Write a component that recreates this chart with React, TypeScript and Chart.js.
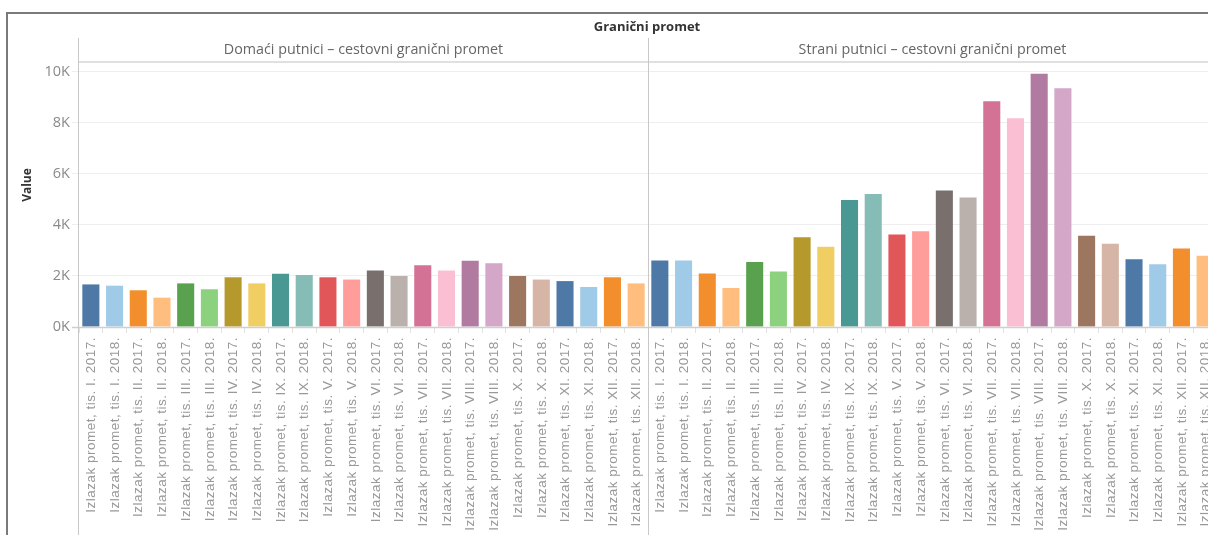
import React, { useEffect, useRef } from "react";
import { Chart, registerables } from "chart.js";

Chart.register(...registerables);

const chartTitle = "Granični promet";
const yAxisTitle = "Value";
const panelTitles = [
  "Domaći putnici – cestovni granični promet",
  "Strani putnici – cestovni granični promet",
];

const categories = [
  "Izlazak promet, tis. I. 2017.",
  "Izlazak promet, tis. I. 2018.",
  "Izlazak promet, tis. II. 2017.",
  "Izlazak promet, tis. II. 2018.",
  "Izlazak promet, tis. III. 2017.",
  "Izlazak promet, tis. III. 2018.",
  "Izlazak promet, tis. IV. 2017.",
  "Izlazak promet, tis. IV. 2018.",
  "Izlazak promet, tis. IX. 2017.",
  "Izlazak promet, tis. IX. 2018.",
  "Izlazak promet, tis. V. 2017.",
  "Izlazak promet, tis. V. 2018.",
  "Izlazak promet, tis. VI. 2017.",
  "Izlazak promet, tis. VI. 2018.",
  "Izlazak promet, tis. VII. 2017.",
  "Izlazak promet, tis. VII. 2018.",
  "Izlazak promet, tis. VIII. 2017.",
  "Izlazak promet, tis. VIII. 2018.",
  "Izlazak promet, tis. X. 2017.",
  "Izlazak promet, tis. X. 2018.",
  "Izlazak promet, tis. XI. 2017.",
  "Izlazak promet, tis. XI. 2018.",
  "Izlazak promet, tis. XII. 2017.",
  "Izlazak promet, tis. XII. 2018.",
];

const domaciValues = [
  1670, 1620, 1440, 1150, 1710, 1480, 1950, 1710, 2090, 2040, 1950, 1860,
  2220, 2000, 2420, 2220, 2600, 2500, 2000, 1860, 1800, 1570, 1950, 1710,
];

const straniValues = [
  2610, 2610, 2100, 1530, 2550, 2180, 3520, 3150, 4980, 5220, 3630, 3750,
  5350, 5080, 8850, 8190, 9930, 9360, 3580, 3260, 2660, 2460, 3080, 2790,
];

const barColors = [
  "#4E79A7", "#A0CBE8", "#F28E2B", "#FFBE7D", "#59A14F", "#8CD17D",
  "#B6992D", "#F1CE63", "#499894", "#86BCB6", "#E15759", "#FF9D9A",
  "#79706E", "#BAB0AC", "#D37295", "#FABFD2", "#B07AA1", "#D4A6C8",
  "#9D7660", "#D7B5A6", "#4E79A7", "#A0CBE8", "#F28E2B", "#FFBE7D",
];

const yTickValues = [0, 2000, 4000, 6000, 8000, 10000];
const yTickLabels = ["0K", "2K", "4K", "6K", "8K", "10K"];
const yMax = 10392;

const decorPlugin = {
  id: "decor",
  beforeDraw(chart: any) {
    const { ctx } = chart;
    ctx.save();
    ctx.fillStyle = "#ffffff";
    ctx.fillRect(0, 0, chart.width, chart.height);
    ctx.restore();
  },
  afterDraw(chart: any) {
    const { ctx, chartArea } = chart;
    const xs = chart.scales.x;
    const n = categories.length;
    const catW = (chartArea.right - chartArea.left) / (2 * n);
    const divX = chartArea.left + catW * n;
    ctx.save();
    // outer frame
    ctx.strokeStyle = "#7a7a7a";
    ctx.lineWidth = 2;
    ctx.strokeRect(7, 13, chart.width + 50, chart.height + 50);
    // title
    ctx.fillStyle = "#333333";
    ctx.font = "bold 13px 'Open Sans', sans-serif";
    ctx.textAlign = "center";
    ctx.textBaseline = "middle";
    ctx.fillText(chartTitle, 647, 27);
    // y axis title
    ctx.save();
    ctx.translate(28, 185);
    ctx.rotate(-Math.PI / 2);
    ctx.font = "bold 12px 'Open Sans', sans-serif";
    ctx.fillText(yAxisTitle, 0, 0);
    ctx.restore();
    // panel headers
    ctx.fillStyle = "#666666";
    ctx.font = "14.3px 'Open Sans', sans-serif";
    ctx.fillText(panelTitles[0], (chartArea.left + divX) / 2, 50);
    ctx.fillText(panelTitles[1], (divX + chartArea.right) / 2, 50);
    // header line
    ctx.strokeStyle = "#d6d6d6";
    ctx.lineWidth = 1.5;
    ctx.beginPath();
    ctx.moveTo(chartArea.left, chartArea.top);
    ctx.lineTo(chartArea.right, chartArea.top);
    ctx.stroke();
    // baseline
    ctx.strokeStyle = "#cfcfcf";
    ctx.lineWidth = 1.5;
    ctx.beginPath();
    ctx.moveTo(chartArea.left - 7, chartArea.bottom + 0.5);
    ctx.lineTo(chartArea.right, chartArea.bottom + 0.5);
    ctx.stroke();
    // vertical lines
    ctx.strokeStyle = "#c8c8c8";
    ctx.lineWidth = 1;
    ctx.beginPath();
    ctx.moveTo(chartArea.left - 0.5, 38);
    ctx.lineTo(chartArea.left - 0.5, chart.height);
    ctx.moveTo(Math.round(divX) + 0.5, 38);
    ctx.lineTo(Math.round(divX) + 0.5, chart.height);
    ctx.stroke();
    // x tick labels (rotated)
    ctx.fillStyle = "#999999";
    ctx.font = "13.5px 'Liberation Sans', Arial, sans-serif";
    (ctx as any).letterSpacing = "0.5px";
    ctx.textAlign = "right";
    ctx.textBaseline = "middle";
    const labels = chart.data.labels as string[];
    for (let i = 0; i < labels.length; i++) {
      const px = xs.getPixelForTick(i);
      ctx.save();
      ctx.translate(px + 0.5, chartArea.bottom + 10);
      ctx.rotate(-Math.PI / 2);
      ctx.fillText(labels[i], 0, 0);
      ctx.restore();
    }
    (ctx as any).letterSpacing = "0px";
    ctx.restore();
  },
};

export default function App() {
  const ref = useRef<HTMLCanvasElement>(null);

  useEffect(() => {
    const canvas = ref.current;
    if (!canvas) return;
    const labels = [...categories, ...categories];
    const values = [...domaciValues, ...straniValues];
    const colors = [...barColors, ...barColors];
    const chart = new Chart(canvas, {
      type: "bar",
      data: {
        labels,
        datasets: [
          {
            data: values,
            backgroundColor: colors,
            borderWidth: 0,
            categoryPercentage: 1,
            barPercentage: 0.72,
          },
        ],
      },
      options: {
        animation: false,
        responsive: false,
        devicePixelRatio: 1,
        layout: { padding: { top: 62, left: 0, right: 0, bottom: 0 } },
        plugins: {
          legend: { display: false },
          tooltip: { enabled: false },
          title: { display: false },
        },
        scales: {
          x: {
            type: "category",
            offset: true,
            border: { display: false },
            grid: {
              display: true,
              offset: true,
              drawOnChartArea: false,
              drawTicks: true,
              tickLength: 6,
              color: "#e2e2e2",
            },
            ticks: {
              display: false,
              autoSkip: false,
              maxRotation: 90,
              minRotation: 90,
            },
            afterFit: (scale: any) => {
              scale.height = 208;
            },
          },
          y: {
            min: 0,
            max: yMax,
            border: { display: false },
            grid: {
              color: "#eeeeee",
              tickLength: 7,
              drawTicks: true,
            },
            afterBuildTicks: (scale: any) => {
              scale.ticks = yTickValues.map((v) => ({ value: v }));
            },
            ticks: {
              padding: 2,
              color: "#8a8a8a",
              font: { family: "'Open Sans', sans-serif", size: 14.5 },
              callback: (v: any) => {
                const i = yTickValues.indexOf(Number(v));
                return i >= 0 ? yTickLabels[i] : "";
              },
            },
            afterFit: (scale: any) => {
              scale.width = 79;
            },
          },
        },
      },
      plugins: [decorPlugin],
    });
    return () => chart.destroy();
  }, []);

  return (
    <div
      style={{
        position: "fixed",
        left: 0,
        top: 0,
        width: 1208,
        height: 535,
        overflow: "hidden",
        background: "#fff",
      }}
    >
      <canvas ref={ref} width={1217} height={535} style={{ display: "block" }} />
    </div>
  );
}
